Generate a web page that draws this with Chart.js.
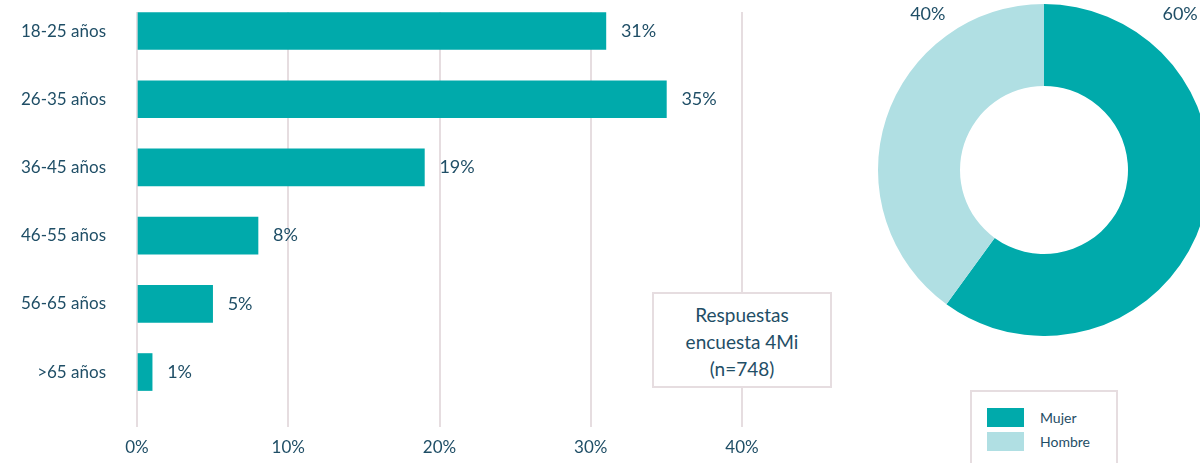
<!DOCTYPE html>
<html>
<head>
<meta charset="utf-8">
<script src="https://cdn.jsdelivr.net/npm/chart.js@4"></script>
<style>
  html, body { margin: 0; padding: 0; overflow: hidden; background: #fff; }
  body { width: 1200px; height: 463px; position: relative; font-family: Lato, sans-serif; color: #1f4e66; }
  #barWrap { position: absolute; left: 0; top: 0; width: 800px; height: 463px; }
  #pieWrap { position: absolute; left: 878px; top: 4px; width: 332px; height: 332px; }
  #note {
    position: absolute; left: 652px; top: 292px; width: 180px; height: 96px;
    box-sizing: border-box; border: 2px solid #e6dde0; background: #fff;
    text-align: center; font-size: 19px; line-height: 27px; padding-top: 7px;
  }
  #legend {
    position: absolute; left: 970px; top: 390px; width: 148px; height: 90px;
    box-sizing: border-box; border: 2px solid #e6dde0; background: #fff;
  }
  .item { position: absolute; left: 15px; height: 19px; font-size: 14px; line-height: 19px; }
  .item span.sw { display: inline-block; width: 37px; height: 19px; vertical-align: top; margin-right: 16px; }
</style>
</head>
<body>
<div id="barWrap"><canvas id="ageChart"></canvas></div>
<div id="note"></div>
<div id="pieWrap"><canvas id="genderChart"></canvas></div>
<div id="legend"></div>
<script>
// edades
const categories = ['18-25 años', '26-35 años', '36-45 años', '46-55 años', '56-65 años', '>65 años'];
const ageValues = [31, 35, 19, 8, 5, 1];
const xTicks = [0, 10, 20, 30, 40];

// sexo
const genderLabels = ['Mujer', 'Hombre'];
const genderValues = [60, 40];
const genderColors = ['#00aaab', '#b0dfe3'];

const noteLines = ['Respuestas', 'encuesta 4Mi', '(n=748)'];

const textColor = '#1f4e66';
const gridColor = '#e6dde0';

document.getElementById('note').innerHTML = noteLines.join('<br>');

const legend = document.getElementById('legend');
genderLabels.forEach((l, i) => {
  const d = document.createElement('div');
  d.className = 'item';
  d.style.top = (16 + i * 24) + 'px';
  d.innerHTML = '<span class="sw" style="background:' + genderColors[i] + '"></span>' + l;
  legend.appendChild(d);
});

// etiquetas de valor al final de cada barra
const barLabels = {
  id: 'barLabels',
  afterDatasetsDraw(chart) {
    const ctx = chart.ctx;
    ctx.save();
    ctx.font = '18px Lato';
    ctx.fillStyle = textColor;
    ctx.textBaseline = 'middle';
    ctx.textAlign = 'left';
    chart.getDatasetMeta(0).data.forEach((bar, i) => {
      ctx.fillText(ageValues[i] + '%', bar.x + 15, bar.y);
    });
    ctx.restore();
  }
};

new Chart(document.getElementById('ageChart'), {
  type: 'bar',
  data: {
    datasets: [{
      data: ageValues.map((v, i) => ({ x: v, y: i })),
      backgroundColor: genderColors[0],
      barThickness: 37
    }]
  },
  options: {
    indexAxis: 'y',
    responsive: true,
    maintainAspectRatio: false,
    animation: false,
    layout: { padding: { top: 12, right: 58, bottom: 0, left: 0 } },
    plugins: { legend: { display: false }, tooltip: { enabled: false } },
    scales: {
      x: {
        type: 'linear',
        min: xTicks[0],
        max: xTicks[xTicks.length - 1],
        afterBuildTicks: s => { s.ticks = xTicks.map(v => ({ value: v })); },
        afterFit: s => { s.height = 36; s.paddingLeft = 0; s.paddingRight = 0; },
        grid: { color: gridColor, lineWidth: 2, drawTicks: false },
        border: { display: false },
        ticks: { color: textColor, font: { family: 'Lato', size: 17 }, padding: 10, callback: v => v + '%' }
      },
      y: {
        type: 'linear',
        reverse: true,
        offset: false,
        min: -0.279,
        max: 5.806,
        afterBuildTicks: s => { s.ticks = categories.map((c, i) => ({ value: i })); },
        afterFit: s => { s.width = 137; s.paddingTop = 0; s.paddingBottom = 0; },
        grid: { display: false, drawTicks: false },
        border: { display: false },
        ticks: { color: textColor, font: { family: 'Lato', size: 17 }, padding: 31, callback: v => categories[v] }
      }
    }
  },
  plugins: [barLabels]
});

// porcentajes arriba del anillo
const pieLabels = {
  id: 'pieLabels',
  afterDatasetsDraw(chart) {
    const ctx = chart.ctx;
    const arc = chart.getDatasetMeta(0).data[0];
    const r = arc.outerRadius;
    const pos = [[0.82, -0.94], [-0.70, -0.94]];
    ctx.save();
    ctx.font = '18px Lato';
    ctx.fillStyle = textColor;
    ctx.textAlign = 'center';
    ctx.textBaseline = 'middle';
    genderValues.forEach((v, i) => {
      ctx.fillText(v + '%', arc.x + pos[i][0] * r, arc.y + pos[i][1] * r);
    });
    ctx.restore();
  }
};

new Chart(document.getElementById('genderChart'), {
  type: 'doughnut',
  data: {
    labels: genderLabels,
    datasets: [{ data: genderValues, backgroundColor: genderColors, borderWidth: 0 }]
  },
  options: {
    responsive: true,
    maintainAspectRatio: false,
    animation: false,
    cutout: '50.6%',
    layout: { padding: 0 },
    plugins: { legend: { display: false }, tooltip: { enabled: false } }
  },
  plugins: [pieLabels]
});
</script>
</body>
</html>
